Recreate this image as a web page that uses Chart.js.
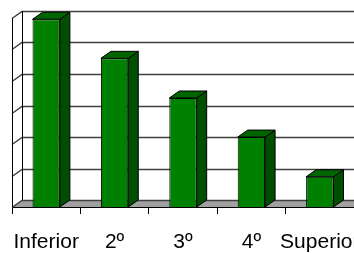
<!DOCTYPE html>
<html>
<head>
<meta charset="utf-8">
<script src="https://cdn.jsdelivr.net/npm/chart.js@4"></script>
<style>
  html, body { margin: 0; padding: 0; background: #fff; }
  #wrap { width: 354px; height: 253px; }
</style>
</head>
<body>
<div id="wrap"><canvas id="chart"></canvas></div>
<script>
// --- Data ---
const categories = ['Inferior', '2º', '3º', '4º', 'Superior']
const values = [29.8, 23.6, 17.3, 11.1, 4.8]
const axisMax = 30
const axisStep = 5

// --- 3D look ---
const depthX = 10
const depthY = 7

// back wall, side wall, floor and gridlines
const walls3d = {
  id: 'walls3d',
  beforeDatasetsDraw(chart) {
    const { ctx, chartArea, scales } = chart
    const { left, right, top, bottom } = chartArea
    ctx.save()
    // floor
    ctx.fillStyle = '#a0a0a0'
    ctx.beginPath()
    ctx.moveTo(left, bottom)
    ctx.lineTo(left + depthX, bottom - depthY)
    ctx.lineTo(right + depthX, bottom - depthY)
    ctx.lineTo(right, bottom)
    ctx.closePath()
    ctx.fill()

    // gridlines
    ctx.strokeStyle = '#404040'
    ctx.lineWidth = 1.5
    scales.y.ticks.forEach((t) => {
      const py = Math.round(scales.y.getPixelForValue(t.value)) + 0.5
      ctx.beginPath()
      ctx.moveTo(left, py)
      ctx.lineTo(left + depthX, py - depthY)
      ctx.lineTo(right + depthX, py - depthY)
      ctx.stroke()
    })

    // wall edges
    ctx.strokeStyle = '#000'
    ctx.lineWidth = 1
    ctx.beginPath()
    ctx.moveTo(left + 0.5, top)
    ctx.lineTo(left + 0.5, bottom)
    ctx.moveTo(left + depthX + 0.5, top - depthY)
    ctx.lineTo(left + depthX + 0.5, bottom - depthY)
    ctx.stroke()
    ctx.restore()
  },
  afterDatasetsDraw(chart) {
    const { ctx } = chart
    const meta = chart.getDatasetMeta(0)
    ctx.save()
    ctx.strokeStyle = '#000'
    ctx.lineWidth = 1
    meta.data.forEach((bar) => {
      const { x, y, base, width } = bar.getProps(['x', 'y', 'base', 'width'], true)
      const l = x - width / 2
      const r = x + width / 2
      // side face
      ctx.fillStyle = '#004e00'
      ctx.beginPath()
      ctx.moveTo(r, y)
      ctx.lineTo(r + depthX, y - depthY)
      ctx.lineTo(r + depthX, base - depthY)
      ctx.lineTo(r, base)
      ctx.closePath()
      ctx.fill()
      ctx.stroke()
      // top face
      ctx.fillStyle = '#006400'
      ctx.beginPath()
      ctx.moveTo(l, y)
      ctx.lineTo(l + depthX, y - depthY)
      ctx.lineTo(r + depthX, y - depthY)
      ctx.lineTo(r, y)
      ctx.closePath()
      ctx.fill()
      ctx.stroke()
    })
    ctx.restore()
  },
}

new Chart(document.getElementById('chart'), {
  type: 'bar',
  data: {
    labels: categories,
    datasets: [
      {
        data: values,
        backgroundColor: '#008000',
        borderColor: '#000',
        borderWidth: 1,
        categoryPercentage: 1,
        barPercentage: 0.4,
        clip: false,
      },
    ],
  },
  options: {
    responsive: true,
    maintainAspectRatio: false,
    animation: false,
    layout: { padding: { left: 12, top: 18, right: 0, bottom: 0 } },
    plugins: {
      legend: { display: false },
      tooltip: { enabled: false },
    },
    scales: {
      x: {
        grid: {
          offset: true,
          drawOnChartArea: false,
          drawTicks: true,
          tickLength: 7,
          color: '#000',
        },
        border: { display: true, color: '#000', width: 1 },
        ticks: {
          color: '#000',
          font: { family: 'Liberation Sans', size: 21 },
          padding: 16,
          maxRotation: 0,
          autoSkip: false,
        },
        afterFit(scale) {
          scale.height = 46
          scale.paddingLeft = 0
          scale.paddingRight = 0
        },
      },
      y: {
        display: false,
        min: 0,
        max: axisMax,
        ticks: { stepSize: axisStep },
      },
    },
  },
  plugins: [walls3d],
})
</script>
</body>
</html>
